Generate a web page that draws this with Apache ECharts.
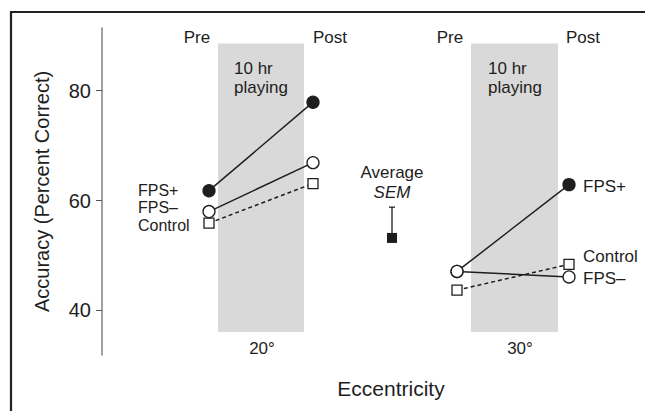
<!DOCTYPE html>
<html>
<head>
<meta charset="utf-8">
<script src="https://cdn.jsdelivr.net/npm/echarts@6/dist/echarts.min.js"></script>
<style>
html,body{margin:0;padding:0;background:#fff;}
#chart{width:645px;height:411px;}
</style>
</head>
<body>
<div id="chart"></div>
<script>
// ---- data ----
var phases = ['Pre', 'Post'];
var eccentricities = ['20°', '30°'];
var yTicks = [40, 60, 80];
// accuracy (percent correct) [Pre, Post]
var fpsPlus20 = [61.8, 77.9];
var fpsMinus20 = [58.0, 66.9];
var control20 = [55.9, 63.1];
var fpsPlus30 = [47.1, 62.9];
var fpsMinus30 = [47.1, 46.1];
var control30 = [43.7, 48.4];
var semMean = 53.2;
var semValue = 5.6;

// ---- layout (x positions on a hidden pixel-like axis) ----
var X20 = [209, 313];
var X30 = [457, 569];
var XSEM = 392;
var shade20 = [218, 304];
var shade30 = [471, 558];
var shadeY = [36.1, 88.6];

var INK = '#1e1e1e';
var FONT = "'Liberation Sans', Arial, Helvetica, sans-serif";

function pts(xs, vals) { return vals.map(function (v, i) { return [xs[i], v]; }); }

function lineSeries(name, xs, vals, open, square, dashed, z) {
  return {
    type: 'line', name: name, data: pts(xs, vals), z: z,
    symbol: square ? 'rect' : 'circle',
    symbolSize: square ? 10 : 12,
    lineStyle: { color: INK, width: 1.5, type: dashed ? [4, 3] : 'solid' },
    itemStyle: { color: open ? '#fff' : INK, borderColor: INK, borderWidth: 1.3 },
    emphasis: { disabled: true },
    animation: false
  };
}

function txt(text, x, y, opts) {
  opts = opts || {};
  return {
    type: 'text', x: x, y: y, z: 100,
    style: {
      text: text, fill: INK, font: (opts.italic ? 'italic ' : '') + (opts.size || 17) + 'px ' + FONT,
      textAlign: opts.align || 'center', textVerticalAlign: 'middle'
    }
  };
}

var chart = echarts.init(document.getElementById('chart'), null, { renderer: 'svg' });

var series = [
  lineSeries('FPS+', X20, fpsPlus20, false, false, false, 3),
  lineSeries('FPS–', X20, fpsMinus20, true, false, false, 4),
  lineSeries('Control', X20, control20, true, true, true, 2),
  lineSeries('FPS+', X30, fpsPlus30, false, false, false, 3),
  lineSeries('Control', X30, control30, true, true, true, 2),
  lineSeries('FPS–', X30, fpsMinus30, true, false, false, 4),
  {
    type: 'custom', name: 'SEM', z: 5,
    data: [[XSEM, semMean, semValue]],
    renderItem: function (params, api) {
      var base = api.coord([api.value(0), api.value(1)]);
      var top = api.coord([api.value(0), api.value(1) + api.value(2)]);
      return {
        type: 'group', children: [
          { type: 'line', shape: { x1: base[0], y1: base[1], x2: top[0], y2: top[1] }, style: { stroke: INK, lineWidth: 1.3 } },
          { type: 'line', shape: { x1: top[0] - 3, y1: top[1], x2: top[0] + 3, y2: top[1] }, style: { stroke: INK, lineWidth: 1.3 } },
          { type: 'rect', shape: { x: base[0] - 5, y: base[1] - 5, width: 10, height: 10 }, style: { fill: INK } }
        ]
      };
    },
    animation: false
  },
  {
    type: 'line', data: [], silent: true,
    markArea: {
      silent: true,
      itemStyle: { color: '#d9d9d9' },
      data: [
        [{ coord: [shade20[0], shadeY[0]] }, { coord: [shade20[1], shadeY[1]] }],
        [{ coord: [shade30[0], shadeY[0]] }, { coord: [shade30[1], shadeY[1]] }]
      ]
    },
    z: 0
  }
];

var graphics = [
  { type: 'line', shape: { x1: 11, y1: 12, x2: 645, y2: 12 }, style: { stroke: '#222', lineWidth: 2.2 }, z: 100 },
  { type: 'line', shape: { x1: 11, y1: 11, x2: 11, y2: 411 }, style: { stroke: '#222', lineWidth: 2.2 }, z: 100 },
  txt(phases[0], 197, 37), txt(phases[1], 330, 37),
  txt(phases[0], 450, 37), txt(phases[1], 583, 37),
  txt('10 hr', 234, 68, { align: 'left' }), txt('playing', 234, 87, { align: 'left' }),
  txt('10 hr', 488, 68, { align: 'left' }), txt('playing', 488, 87, { align: 'left' }),
  txt(eccentricities[0], 262, 348), txt(eccentricities[1], 520, 348),
  txt('Average', 392, 172), txt('SEM', 392, 192, { italic: true }),
  txt('FPS+', 138, 190, { align: 'left', size: 16 }),
  txt('FPS–', 138, 207, { align: 'left', size: 16 }),
  txt('Control', 138, 225, { align: 'left', size: 16 }),
  txt('FPS+', 583, 186, { align: 'left' }),
  txt('Control', 583, 256, { align: 'left' }),
  txt('FPS–', 583, 278, { align: 'left' }),
  txt('Eccentricity', 391, 388, { size: 21 })
];

chart.setOption({
  animation: false,
  grid: { left: 102, right: 0, top: 28, bottom: 56 },
  xAxis: { type: 'value', min: 102, max: 645, show: false },
  yAxis: {
    type: 'value', min: 31.9, max: 91.4,
    name: 'Accuracy (Percent Correct)', nameLocation: 'middle', nameRotate: 90, nameGap: 50,
    nameTextStyle: { fontFamily: FONT, fontSize: 20, color: INK },
    splitLine: { show: false },
    axisLine: { show: true, lineStyle: { color: '#808080', width: 1.5 } },
    axisTick: { show: true, length: 6, lineStyle: { color: '#555', width: 1 }, customValues: yTicks },
    axisLabel: { fontFamily: FONT, fontSize: 20, color: INK, margin: 11, customValues: yTicks }
  },
  series: series,
  graphic: graphics
});
</script>
</body>
</html>
